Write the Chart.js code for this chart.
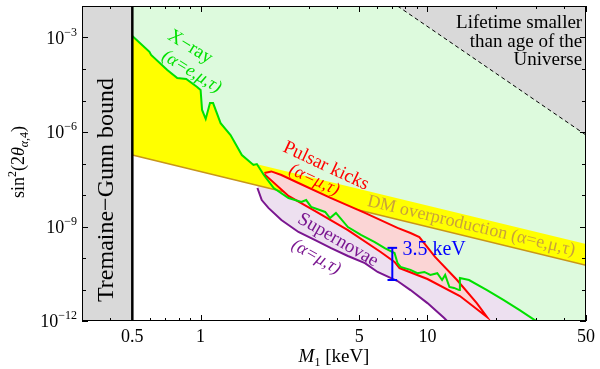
<!DOCTYPE html>
<html>
<head>
<meta charset="utf-8">
<script src="https://cdn.jsdelivr.net/npm/chart.js@4.4.0/dist/chart.umd.min.js"></script>
<style>
  html, body { margin: 0; background: #fff; }
  #wrap { width: 600px; height: 369px; }
</style>
</head>
<body>
<div id="wrap"><canvas id="c"></canvas></div>
<script>
// Axis ranges: M1 in keV, sin^2(2 theta)
const X_MIN = 0.3, X_MAX = 50;
const Y_MIN = 1e-12, Y_MAX = 1e-2;
const X_MAJOR = [0.5, 1, 5, 10, 50];
const X_MINOR = [0.3, 0.4, 0.6, 0.7, 0.8, 0.9, 2, 3, 4, 6, 7, 8, 9, 20, 30, 40];
const Y_TICKS = [1e-12, 1e-11, 1e-10, 1e-9, 1e-8, 1e-7, 1e-6, 1e-5, 1e-4, 1e-3, 1e-2];
const Y_LABELED = [1e-12, 1e-9, 1e-6, 1e-3];

// X-ray bound (alpha = e, mu, tau)
const XRAY_M = [0.5, 0.595, 0.605, 0.713, 0.789, 0.864, 0.965, 1.0, 1.015, 1.053, 1.10, 1.135, 1.225,
  1.355, 1.52, 1.71, 1.77, 1.90, 2.10, 2.44, 2.78, 2.92, 3.07, 3.54, 3.72, 3.95, 4.46, 5.09, 5.86,
  6.48, 7.16, 7.38, 7.61, 8.42, 9.03, 9.69, 10.3, 11.05, 11.6, 11.97, 12.5, 13.1, 13.8, 13.9, 15.25,
  18.3, 21.7, 25.5, 29.6, 30.3];
const XRAY_S = [1.12e-3, 3.5e-4, 2.8e-4, 9.3e-5, 5.2e-5, 4.8e-5, 2.7e-5, 2.15e-5, 5.0e-6, 2.6e-6, 8.3e-6,
  8.3e-6, 1.9e-6, 8.0e-7, 1.86e-7, 9.0e-8, 9.6e-8, 4.3e-8, 1.67e-8, 8.0e-9, 6.0e-9, 6.9e-9, 4.2e-9,
  2.9e-9, 1.86e-9, 2.7e-9, 9.6e-10, 5.4e-10, 3.2e-10, 2.07e-10, 1.44e-10, 6.9e-11, 5.2e-11, 4.2e-11,
  3.3e-11, 3.6e-11, 2.9e-11, 3.3e-11, 2.0e-11, 2.9e-11, 1.2e-11, 1.12e-11, 9.6e-12, 2.3e-11, 2.0e-11,
  9.6e-12, 4.6e-12, 2.2e-12, 1.08e-12, 1e-12];

// Pulsar kicks region outline (alpha = mu, tau), closed
const PULSAR_M = [1.91, 2.05, 2.27, 2.70, 3.76, 5.30, 7.38, 8.42, 9.21, 10.8, 13.5, 16.5, 18.3,
  13.9, 10.0, 7.53, 7.16, 6.22, 4.46, 3.20, 2.44, 1.91];
const PULSAR_S = [5.0e-8, 5.6e-8, 4.3e-8, 2.4e-8, 8.0e-9, 2.7e-9, 9.0e-10, 6.2e-10, 4.6e-10, 1.08e-10,
  2.0e-11, 3.7e-12, 1.34e-12, 6.2e-12, 2.15e-11, 4.8e-11, 7.5e-11, 1.55e-10, 7.7e-10, 3.1e-9, 9.3e-9, 4.6e-8];

// Supernovae bound (alpha = mu, tau)
const SN_M = [1.78, 1.86, 1.99, 2.27, 2.70, 3.20, 3.76, 4.46, 5.30, 6.03, 7.38, 8.42, 10.0, 11.85, 12.2];
const SN_S = [1.67e-8, 6.9e-9, 3.9e-9, 1.61e-9, 6.7e-10, 3.7e-10, 2.07e-10, 1.16e-10, 6.9e-11, 3.6e-11,
  1.86e-11, 9.6e-12, 3.7e-12, 1.24e-12, 1e-12];

// DM overproduction band (alpha = e, mu, tau)
const DM_M = [0.5, 50];
const DM_LO = [1.86e-7, 5.9e-11];
const DM_HI = [8.7e-7, 2.8e-10];

// Lifetime shorter than age of the Universe
const LIFE_M = [7.38, 50];
const LIFE_S = [1e-2, 8.0e-7];

// Tremaine-Gunn bound and the 3.5 keV line
const TG_M = 0.5;
const LINE_M = 7.0, LINE_LO = 2.0e-11, LINE_HI = 2.1e-10;

// Text labels placed in data coordinates
const LABELS = [
  { t: 'X\u2212ray', m: 0.90, s: 5.0e-4, rot: 31.5, color: '#00e000', font: '19px' },
  { t: '(\u03b1=e,\u03bc,\u03c4)', m: 0.913, s: 8.2e-5, rot: 31.5, color: '#00e000', font: 'italic 18px' },
  { t: 'Pulsar kicks', m: 3.57, s: 8.3e-8, rot: 25, color: '#ff0000', font: '19px' },
  { t: '(\u03b1=\u03bc,\u03c4)', m: 3.17, s: 3.0e-8, rot: 25, color: '#ff0000', font: 'italic 18px' },
  { t: 'DM overproduction (\u03b1=e,\u03bc,\u03c4)', m: 15.6, s: 1.04e-9, rot: 13.5, color: '#c9a23a', font: '18px' },
  { t: 'Supernovae', m: 4.03, s: 3.7e-10, rot: 30, color: '#7a1690', font: '19px' },
  { t: '(\u03b1=\u03bc,\u03c4)', m: 3.23, s: 1.08e-10, rot: 30, color: '#7a1690', font: 'italic 18px' },
  { t: 'Tremaine\u2212Gunn bound', m: 0.386, s: 1.44e-8, rot: -90, color: '#000', font: '24px' },
  { t: '3.5 keV', m: 7.76, s: 1.8e-10, rot: 0, color: '#0000ff', font: '20px', align: 'left' }
];
const LIFE_TEXT = ['Lifetime smaller', 'than age of the', 'Universe'];
const LIFE_TEXT_M = 48.1;
const LIFE_TEXT_S = [2.0e-3, 5.0e-4, 1.34e-4];

const pts = (xs, ys) => xs.map((x, i) => ({ x, y: ys[i] }));
const SERIF = '"Liberation Serif", "DejaVu Serif", serif';

function region(data, color, order, fill) {
  return { data, backgroundColor: color, borderWidth: 0, fill: fill || 'end', order, pointRadius: 0, tension: 0 };
}
function stroke(data, color, width, order, dash) {
  return { data, borderColor: color, borderWidth: width, borderDash: dash || [], fill: false, order, pointRadius: 0, tension: 0 };
}

const capW = 1.05;
const datasets = [
  region([...pts(SN_M, SN_S), { x: X_MAX, y: Y_MIN }], '#ede0f0', 20),
  region(pts(DM_M, DM_LO), '#ffff00', 19),
  region([...pts(XRAY_M, XRAY_S), { x: X_MAX, y: Y_MIN }], '#ddfadd', 18),
  region([...pts(DM_M, DM_LO), ...pts(DM_M, DM_HI).reverse()], '#ffff00', 17, 'shape'),
  stroke(pts(DM_M, DM_LO), '#c8961a', 1.5, 16),
  region(pts(PULSAR_M, PULSAR_S), '#fbd5d5', 15, 'shape'),
  { ...region(pts(LIFE_M, LIFE_S), '#d9d9d9', 14), borderColor: '#000', borderWidth: 1, borderDash: [4, 3] },
  region([{ x: X_MIN, y: Y_MIN }, { x: TG_M, y: Y_MIN }], '#d9d9d9', 13),
  stroke(pts(SN_M, SN_S), '#7a1690', 2, 12),
  stroke(pts(PULSAR_M, PULSAR_S), '#ff0000', 2, 11),
  stroke(pts(XRAY_M, XRAY_S), '#00e000', 2, 10),
  stroke([{ x: TG_M, y: Y_MIN }, { x: TG_M, y: Y_MAX }], '#000', 2.5, 9),
  stroke([{ x: LINE_M, y: LINE_LO }, { x: LINE_M, y: LINE_HI }], '#0000ff', 2, 8),
  stroke([{ x: LINE_M / capW, y: LINE_LO }, { x: LINE_M * capW, y: LINE_LO }], '#0000ff', 2, 8),
  stroke([{ x: LINE_M / capW, y: LINE_HI }, { x: LINE_M * capW, y: LINE_HI }], '#0000ff', 2, 8)
];

// Draw a row of text pieces (for super/subscripts), aligned around x
function drawRuns(ctx, runs, x, y, align) {
  let w = 0;
  runs.forEach(r => { ctx.font = r.font; r.w = ctx.measureText(r.t).width; w += r.w; });
  let cx = align === 'right' ? x - w : align === 'center' ? x - w / 2 : x;
  runs.forEach(r => { ctx.font = r.font; ctx.fillText(r.t, cx, y + (r.dy || 0)); cx += r.w; });
}

const framePlugin = {
  id: 'frame',
  afterDraw(chart) {
    const { ctx, chartArea: a, scales: { x, y } } = chart;
    ctx.save();
    // frame
    ctx.strokeStyle = '#000';
    ctx.lineWidth = 1;
    ctx.strokeRect(a.left + 0.5, a.top + 0.5, a.right - a.left - 1, a.bottom - a.top - 1);
    // inward ticks on all four sides
    ctx.beginPath();
    x.ticks.forEach(t => {
      const px = Math.round(x.getPixelForValue(t.value)) + 0.5;
      const len = X_MAJOR.includes(t.value) ? 6 : 3;
      ctx.moveTo(px, a.bottom); ctx.lineTo(px, a.bottom - len);
      ctx.moveTo(px, a.top); ctx.lineTo(px, a.top + len);
    });
    y.ticks.forEach(t => {
      const py = Math.round(y.getPixelForValue(t.value)) + 0.5;
      const len = Y_LABELED.includes(t.value) ? 6 : 4;
      ctx.moveTo(a.left, py); ctx.lineTo(a.left + len, py);
      ctx.moveTo(a.right, py); ctx.lineTo(a.right - len, py);
    });
    ctx.stroke();

    // y tick labels 10^n
    ctx.fillStyle = '#000';
    ctx.textBaseline = 'alphabetic';
    y.ticks.forEach(t => {
      if (!Y_LABELED.includes(t.value)) return;
      const py = y.getPixelForValue(t.value);
      const n = Math.round(Math.log10(t.value));
      drawRuns(ctx, [
        { t: '10', font: '18px ' + SERIF },
        { t: '\u2212' + Math.abs(n), font: '12px ' + SERIF, dy: -8 }
      ], a.left - 5, py + 6, 'right');
    });

    // axis titles
    drawRuns(ctx, [
      { t: 'M', font: 'italic 19px ' + SERIF },
      { t: '1', font: '12px ' + SERIF, dy: 4 },
      { t: ' [keV]', font: '19px ' + SERIF }
    ], (a.left + a.right) / 2, 362, 'center');

    ctx.save();
    ctx.translate(24, 162);
    ctx.rotate(-Math.PI / 2);
    drawRuns(ctx, [
      { t: 'sin', font: '18px ' + SERIF },
      { t: '2', font: '12px ' + SERIF, dy: -8 },
      { t: '(2', font: '18px ' + SERIF },
      { t: '\u03b8', font: 'italic 18px ' + SERIF },
      { t: '\u03b1', font: 'italic 12px ' + SERIF, dy: 4 },
      { t: ',4', font: '12px ' + SERIF, dy: 4 },
      { t: ')', font: '18px ' + SERIF }
    ], 0, 0, 'center');
    ctx.restore();

    // annotations
    LABELS.forEach(l => {
      ctx.save();
      ctx.translate(x.getPixelForValue(l.m), y.getPixelForValue(l.s));
      ctx.rotate(l.rot * Math.PI / 180);
      ctx.font = l.font + ' ' + SERIF;
      ctx.fillStyle = l.color;
      ctx.textAlign = l.align || 'center';
      ctx.textBaseline = 'middle';
      ctx.fillText(l.t, 0, 0);
      ctx.restore();
    });
    ctx.font = '19px ' + SERIF;
    ctx.fillStyle = '#000';
    ctx.textAlign = 'right';
    LIFE_TEXT.forEach((t, i) => {
      ctx.fillText(t, x.getPixelForValue(LIFE_TEXT_M), y.getPixelForValue(LIFE_TEXT_S[i]));
    });
    ctx.restore();
  }
};

new Chart(document.getElementById('c'), {
  type: 'line',
  data: { datasets },
  options: {
    animation: false,
    responsive: true,
    maintainAspectRatio: false,
    events: [],
    layout: { padding: { top: 6, right: 10, left: 0, bottom: 0 } },
    plugins: { legend: { display: false }, tooltip: { enabled: false } },
    scales: {
      x: {
        type: 'logarithmic', min: X_MIN, max: X_MAX,
        grid: { display: false, drawTicks: false },
        border: { display: false },
        afterBuildTicks: (s) => {
          s.ticks = [...X_MAJOR, ...X_MINOR].sort((p, q) => p - q).map(v => ({ value: v }));
        },
        afterFit: (s) => { s.height = 48; },
        ticks: {
          autoSkip: false, maxRotation: 0, padding: 5, color: '#000',
          font: { family: SERIF, size: 18 },
          callback: (v) => X_MAJOR.includes(v) ? String(v) : ''
        }
      },
      y: {
        type: 'logarithmic', min: Y_MIN, max: Y_MAX,
        grid: { display: false, drawTicks: false },
        border: { display: false },
        afterBuildTicks: (s) => { s.ticks = Y_TICKS.map(v => ({ value: v })); },
        afterFit: (s) => { s.width = 82; },
        ticks: { display: false }
      }
    }
  },
  plugins: [framePlugin]
});
</script>
</body>
</html>
